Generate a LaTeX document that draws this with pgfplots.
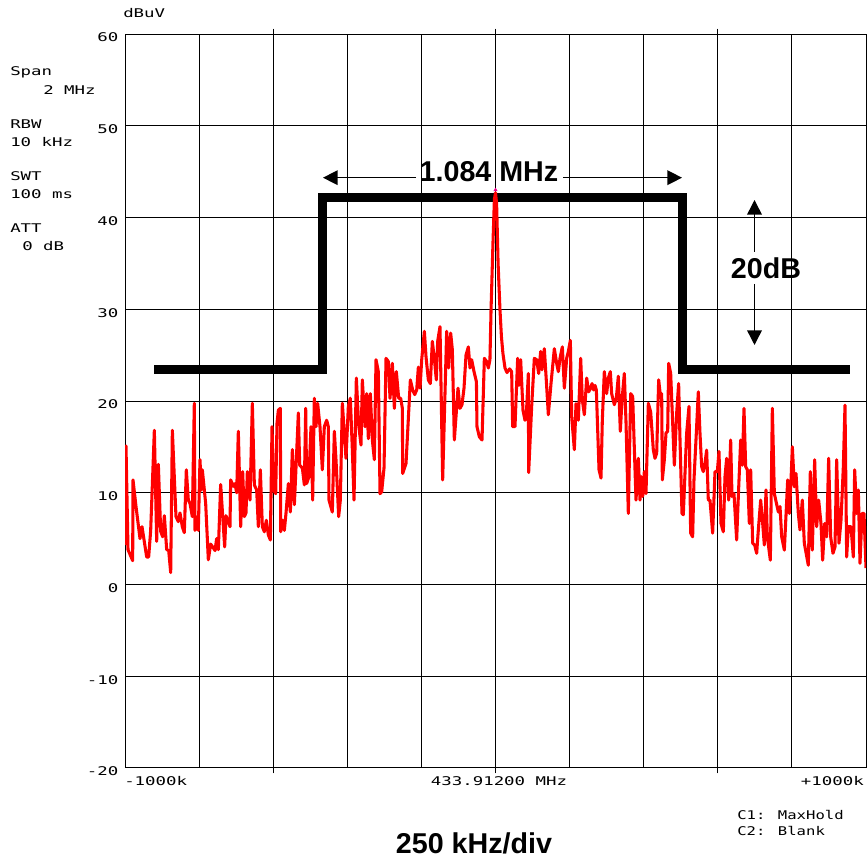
\documentclass[border=0pt]{standalone}
\usepackage{fontspec}
\setmainfont{Liberation Sans}
\newfontfamily\hp{DejaVu Sans Mono}[FakeStretch=1.45]
\newfontfamily\hpn{DejaVu Sans Mono}[FakeStretch=1.3]
\usepackage{pgfplots}
\pgfplotsset{compat=1.18}
\usetikzlibrary{calc,arrows.meta}
\definecolor{trace}{RGB}{255,0,0}
\newcommand{\hpf}{\hp\fontsize{9}{11}\selectfont}
\newcommand{\hpg}{\hpn\fontsize{9}{11}\selectfont}
\newcommand{\bigb}{\bfseries\fontsize{21.5}{24}\selectfont}

\begin{document}
\begin{tikzpicture}
\begin{axis}[
  scale only axis,
  width=555.75pt, height=550.5pt,
  xmin=-1000, xmax=1000, ymin=-20, ymax=60,
  xtick={-1000,-800,...,1000},
  xticklabels={},
  ytick={-20,-10,...,60},
  yticklabels={-20,-10,0,10,20,30,40,50,60},
  yticklabel style={font=\hpf, xshift=-1.5pt, yshift=-2.6pt},
  major tick length=0pt,
  grid=major,
  major grid style={black, line width=0.75pt},
  axis line style={black, line width=0.75pt},
  extra x ticks={-600,0,600},
  extra x tick labels={},
  extra x tick style={grid=none, major tick length=4pt, tick align=outside,
    tick style={black, line width=0.75pt}},
]
\coordinate (bl) at (rel axis cs:0,0);
% limit mask
\addplot[black, line width=6.75pt, line join=miter] coordinates {
  (-921,23.45) (-468,23.45) (-468,42.2) (505,42.2) (505,23.45) (957,23.45)};
% C1 max hold trace
\addplot[trace, line width=2.3pt, line join=round] coordinates {
(-1000,4.3) (-997.3,15.1) (-991.9,3.8) (-979.3,2.6) (-978.4,11.4) (-970.3,8.5)
(-959.5,5.0) (-954.1,6.3) (-941.5,3.0) (-936.1,3.0) (-930.7,5.9) (-920.8,16.8)
(-914.5,4.7) (-910.0,13.1) (-903.7,5.8) (-898.3,5.2) (-893.8,7.5) (-887.5,3.8)
(-882.1,3.7) (-876.7,1.3) (-872.2,16.8) (-862.4,7.4) (-856.1,6.85) (-851.6,7.8)
(-845.3,6.3) (-839.9,5.65) (-834.5,12.5) (-829.1,9.2) (-824.6,8.85) (-818.3,7.4)
(-812.9,19.75) (-811.1,5.9) (-804.8,7.4) (-802.1,5.9) (-797.6,13.6) (-794.0,10.3)
(-791.3,12.5) (-782.3,8.85) (-775.1,2.7) (-768.8,4.4) (-763.4,4.1) (-757.1,3.7)
(-752.6,5.0) (-748.1,3.8) (-741.8,10.9) (-731.0,4.1) (-727.4,7.5) (-716.6,6.3)
(-714.8,11.4) (-707.6,10.7) (-703.1,11.0) (-698.6,10.0) (-694.1,16.7) (-687.8,6.3)
(-682.4,12.3) (-677.9,7.4) (-673.4,7.8) (-669.8,12.3) (-662.6,9.2) (-656.3,19.75)
(-650.9,10.85) (-644.6,10.3) (-640.1,6.3) (-634.7,12.5) (-629.3,6.3) (-623.9,5.75)
(-618.5,7.0) (-613.1,5.4) (-607.7,4.85) (-603.2,17.2) (-598.7,10.3) (-593.3,9.9)
(-589.7,17.6) (-586.1,19.0) (-580.7,19.2) (-579.8,5.75) (-574.4,7.0) (-569.9,5.9)
(-565.4,7.8) (-559.1,11.0) (-553.7,7.9) (-548.3,14.7) (-542.9,8.7) (-538.4,12.8)
(-532.1,18.7) (-528.5,13.0) (-521.3,12.7) (-515.9,10.85) (-512.3,19.2) (-509.7,11.0)
(-503.4,11.75) (-498.0,17.2) (-493.5,9.2) (-489.0,20.3) (-484.5,17.2) (-480.0,19.75)
(-473.7,17.2) (-467.4,12.5) (-462.0,17.2) (-455.7,17.9) (-451.2,17.2) (-449.4,9.2)
(-440.4,7.9) (-435.0,16.7) (-430.5,13.6) (-423.3,7.4) (-418.8,9.2) (-413.4,19.75)
(-403.5,13.75) (-397.2,19.4) (-391.8,20.3) (-386.4,14.7) (-381.9,9.2) (-375.6,22.5)
(-369.3,17.4) (-363.0,15.2) (-359.4,22.3) (-352.2,17.2) (-347.7,20.8) (-343.2,15.9)
(-337.8,20.8) (-332.4,15.75) (-327.0,13.6) (-322.5,24.5) (-316.2,23.2) (-311.7,9.9)
(-307.2,10.1) (-300.9,12.7) (-295.5,24.65) (-289.2,24.3) (-284.7,20.3) (-278.4,24.1)
(-273.0,19.2) (-267.6,23.2) (-261.3,20.3) (-255.9,20.3) (-251.4,19.2) (-250.5,12.1)
(-241.5,13.2) (-229.8,22.3) (-223.5,21.2) (-218.1,20.7) (-212.7,21.2) (-208.2,23.7)
(-203.7,21.4) (-199.2,24.5) (-192.0,27.6) (-187.5,24.8) (-181.3,22.3) (-175.9,21.9)
(-170.5,26.5) (-165.1,24.65) (-159.7,22.3) (-156.1,26.5) (-149.8,28.1) (-142.6,11.4)
(-131.8,27.6) (-126.4,23.6) (-121.0,27.4) (-116.5,25.6) (-111.1,15.75) (-101.2,21.4)
(-95.8,19.2) (-90.4,19.6) (-85.0,21.4) (-79.6,25.0) (-73.3,25.9) (-68.8,23.6)
(-64.3,24.5) (-58.0,23.2) (-51.5,22.1) (-50.0,17.2) (-43.6,16.1) (-36.4,15.75)
(-30.1,24.65) (-23.8,24.3) (-19.3,23.6) (-15,24.5) (-12,30) (-7,37) (-3,42)
(0,42.7) (3,41.5) (7,35) (12,30) (16,27) (20,25.2) (25.6,23.6) (31.0,23.1)
(38.2,23.5) (43.6,23.2) (46.3,17.2) (52.6,17.2) (59.8,24.65) (63.4,21.7)
(67.9,24.5) (74.2,19.0) (79.6,17.9) (83.2,18.5) (88.6,23.0) (89.5,12.2)
(97.6,19.4) (104.8,24.65) (111.1,24.5) (116.5,23.0) (121.9,25.4) (125.5,23.4)
(131.8,25.7) (138.1,21.6) (142.6,18.5) (149.8,21.9) (158.8,25.7) (165.1,24.1)
(169.6,23.2) (174.1,24.65) (180.4,25.9) (185.8,21.4) (192.1,24.65) (196.6,25.4)
(202.0,26.6) (205.6,18.3) (212.8,14.7) (217.3,19.7) (223.6,17.9) (229.9,24.65)
(234.4,20.1) (239.8,18.5) (246.1,22.5) (251.5,21.0) (256.9,21.4) (260.5,21.9)
(265.0,21.2) (268.6,21.7) (272.2,21.2) (274.9,17.9) (279.4,12.5) (284.8,11.6)
(288.3,17.9) (293.7,23.2) (300.0,20.8) (304.5,22.5) (309.9,23.2) (313.5,20.8)
(320.7,19.6) (326.1,20.3) (331.5,22.7) (336.9,16.7) (341.4,20.1) (347.7,23.0)
(352.2,17.75) (358.5,7.75) (364.8,20.8) (370.2,20.5) (379.2,9.2) (385.5,13.75)
(390.0,9.2) (393.6,11.75) (397.2,9.6) (401.7,12.3) (406.2,9.9) (412.5,19.75)
(418.8,18.8) (426.0,14.65) (430.5,13.75) (435.0,14.3) (440.4,22.3) (445.8,20.3)
(448.5,20.8) (450.3,11.4) (455.7,13.6) (460.2,16.5) (464.7,16.7) (467.4,24.1)
(472.8,23.0) (478.2,17.6) (482.7,13.0) (489.0,18.7) (494.3,21.9) (498.0,15.75)
(503.3,7.75) (506.9,7.6) (515.9,16.5) (522.2,19.4) (526.7,5.6) (532.1,5.2)
(535.7,11.4) (541.1,15.75) (547.4,21.0) (551.9,16.5) (556.4,12.85) (560.9,12.3)
(565.4,13.2) (569.9,14.65) (574.4,9.2) (578.9,9.2) (586.1,5.6) (592.4,12.3)
(598.7,12.3) (603.2,14.5) (608.6,6.65) (614.9,5.75) (619.4,11.75) (623.9,13.75)
(629.3,9.2) (634.7,15.75) (638.3,9.6) (643.7,9.9) (650.9,4.85) (655.4,9.6)
(661.7,15.75) (666.2,13.0) (670.7,19.2) (675.2,12.85) (679.7,12.5) (685.1,6.65)
(688.7,12.5) (694.1,4.5) (699.5,4.3) (704.9,3.4) (709.4,5.95) (715.7,9.2)
(721.1,6.65) (725.6,4.3) (730.1,10.3) (733.7,5.2) (741.8,2.65) (747.2,19.2)
(752.6,9.9) (763.4,7.9) (767.9,8.5) (772.4,5.2) (779.6,3.75) (788.6,11.4)
(793.1,7.75) (797.6,11.4) (801.2,15.0) (806.6,10.65) (811.1,12.1) (817.3,7.75)
(821.8,5.95) (828.1,9.2) (833.5,4.5) (844.3,2.1) (849.7,12.3) (855.1,3.75)
(861.4,13.6) (866.8,6.3) (872.2,9.2) (878.5,6.65) (883.0,2.65) (888.4,6.65)
(893.8,5.2) (899.2,13.75) (904.6,5.2) (910.9,3.4) (916.3,4.1) (920.8,13.6)
(927.1,4.5) (932.5,7.0) (938.8,12.85) (943.3,19.55) (947.8,3.0) (952.3,6.3)
(959.5,6.3) (965.8,3.0) (969.4,12.5) (974.8,7.75) (979.3,10.3) (983.8,2.3)
(989.2,7.75) (994.6,7.75) (1000,1.8)
};
% marker at the carrier
\addplot[only marks, mark=triangle*, mark size=1.4pt, magenta] coordinates {(0,43.0)};
\end{axis}

% annotations, placed in pixel units of the screen dump
\begin{scope}[shift={($(bl)+(-93.75pt,576pt)$)}, x=0.75pt, y=-0.75pt]
  \pgfresetboundingbox
  \path[use as bounding box] (0,0) rectangle (867,859);
  \begin{scope}[every node/.style={font=\hpf, inner sep=0pt, anchor=west}]
    \node at (123,13) {dBuV};
    \node at (10,72) {Span};
    \node at (43,90) {2 MHz};
    \node at (10,124) {RBW};
    \node at (10,142) {10 kHz};
    \node at (10,176) {SWT};
    \node at (10,194) {100 ms};
    \node at (10,228) {ATT};
    \node at (22,246) {0 dB};
    \node at (124,781) {-1000k};
    \node[anchor=center] at (499,781) {433.91200 MHz};
    \node[anchor=east] at (864,781) {+1000k};
    \node[font=\hpg] at (737,815) {C1: MaxHold};
    \node[font=\hpg] at (737,831) {C2: Blank};
  \end{scope}
  \node[font=\bigb, inner sep=0pt] at (489,172) {1.084 MHz};
  \node[font=\bigb, inner sep=0pt] at (766,268) {20dB};
  \node[font=\bigb, inner sep=0pt] at (474,843) {250 kHz/div};
  \draw[line width=1.1pt, -{Triangle[length=11pt,width=11pt]}] (416,177.7) -- (323,177.7);
  \draw[line width=1.1pt, -{Triangle[length=11pt,width=11pt]}] (563,177.7) -- (682,177.7);
  \draw[line width=1.1pt, -{Triangle[length=11pt,width=11pt]}] (754.5,252) -- (754.5,200);
  \draw[line width=1.1pt, -{Triangle[length=11pt,width=11pt]}] (754.5,284) -- (754.5,345);
\end{scope}
\end{tikzpicture}
\end{document}
